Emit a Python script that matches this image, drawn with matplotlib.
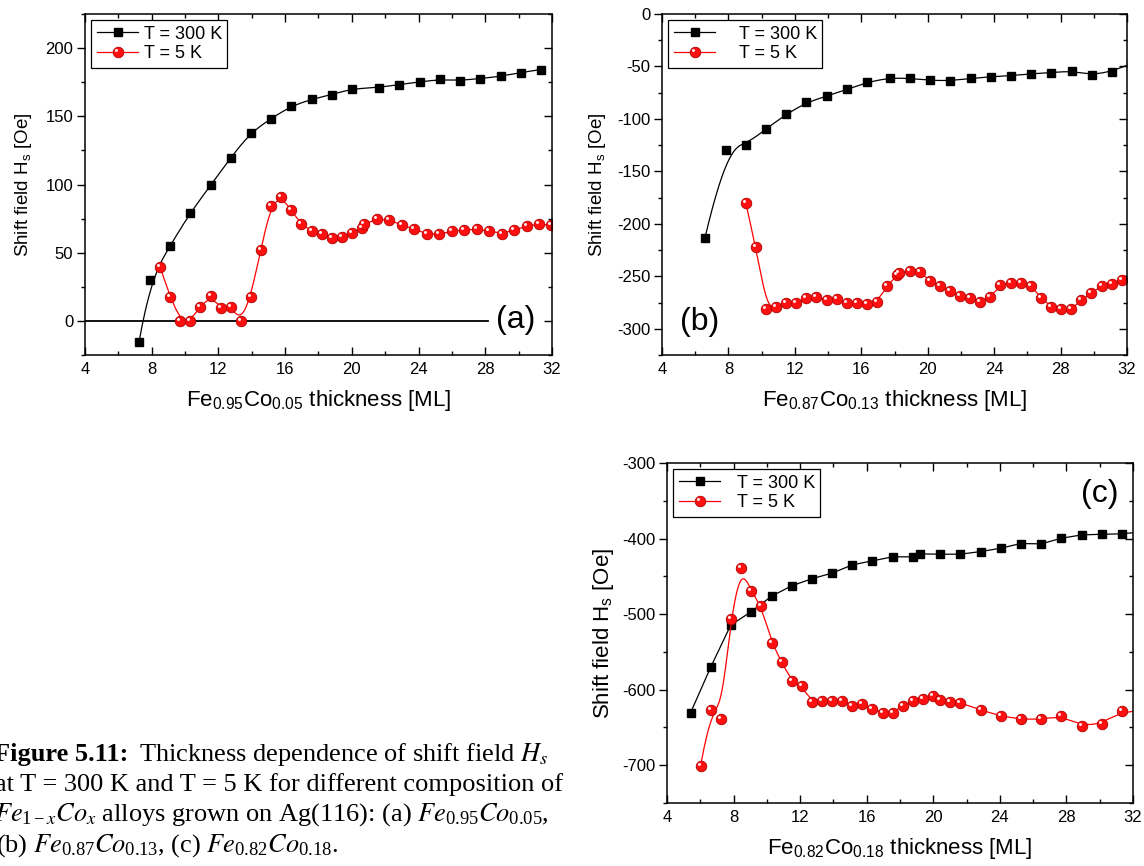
import numpy as np
import matplotlib
matplotlib.use("Agg")
import matplotlib.pyplot as plt
from matplotlib.path import Path
from matplotlib.legend_handler import HandlerTuple

plt.rcParams['font.family'] = 'Liberation Sans'
plt.rcParams['mathtext.fontset'] = 'custom'
plt.rcParams['mathtext.rm'] = 'Liberation Sans'
plt.rcParams['mathtext.it'] = 'Liberation Sans:italic'
plt.rcParams['mathtext.bf'] = 'Liberation Sans:bold'
plt.rcParams['mathtext.default'] = 'regular'
plt.rcParams['axes.unicode_minus'] = False

# ---- data ----
# (a) Fe0.95Co0.05
a_x300 = [7.24, 7.90, 9.10, 10.29, 11.53, 12.73, 13.93, 15.15, 16.35, 17.59, 18.81,
          20.01, 21.63, 22.85, 24.06, 25.26, 26.46, 27.68, 28.92, 30.12, 31.34]
a_y300 = [-15.4, 29.9, 55.1, 78.9, 99.3, 119.6, 138.0, 148.3, 157.4, 162.5, 165.9,
          170.3, 171.1, 173.3, 175.2, 177.0, 176.2, 177.7, 179.2, 182.1, 184.3]
a_x5 = [8.50, 9.10, 9.70, 10.29, 10.91, 11.53, 12.13, 12.73, 13.33, 13.93, 14.53,
        15.15, 15.75, 16.35, 16.97, 17.59, 18.19, 18.81, 19.41, 20.01, 20.61, 20.73,
        21.49, 22.25, 22.99, 23.74, 24.48, 25.24, 25.98, 26.72, 27.48, 28.24, 28.98,
        29.72, 30.48, 31.22, 31.92]
a_y5 = [39.7, 17.6, 0.0, 0.0, 10.3, 18.1, 9.6, 10.3, 0.0, 17.2, 52.0,
        84.6, 91.2, 81.4, 70.8, 65.9, 63.5, 61.0, 61.5, 64.2, 68.4, 70.8,
        74.8, 74.0, 70.3, 67.4, 63.7, 63.5, 65.7, 66.7, 67.2, 65.9, 64.0,
        66.7, 69.6, 71.1, 70.3]

# (b) Fe0.87Co0.13
b_x300 = [6.59, 7.84, 9.04, 10.27, 11.47, 12.70, 13.93, 15.13, 16.34, 17.70, 18.93,
          20.13, 21.34, 22.59, 23.79, 25.00, 26.22, 27.45, 28.67, 29.88, 31.08, 32.30]
b_y300 = [-213.1, -129.5, -124.7, -109.4, -95.7, -84.3, -78.2, -71.9, -65.2, -60.8, -61.4,
          -63.3, -63.6, -61.4, -59.8, -58.8, -56.9, -56.0, -54.1, -58.5, -55.0, -47.0]
b_x5 = [9.04, 9.65, 10.27, 10.87, 11.47, 12.08, 12.70, 13.30, 13.93, 14.53, 15.13,
        15.73, 16.34, 16.96, 17.56, 18.17, 18.29, 18.93, 19.53, 20.13, 20.74, 21.36,
        21.96, 22.57, 23.17, 23.77, 24.37, 25.00, 25.60, 26.20, 26.85, 27.45, 28.05,
        28.65, 29.26, 29.86, 30.49, 31.08, 31.71]
b_y5 = [-179.7, -221.7, -281.2, -279.6, -275.8, -275.8, -271.0, -270.0, -272.6, -271.6, -275.8,
        -275.1, -276.7, -274.2, -258.9, -249.0, -246.5, -244.9, -246.2, -254.1, -259.2, -264.0,
        -268.4, -270.4, -274.2, -269.7, -258.6, -256.0, -256.7, -258.9, -270.7, -279.6, -281.2,
        -281.2, -272.9, -265.6, -259.2, -257.6, -253.5]

# (c) Fe0.82Co0.18
c_x300 = [5.42, 6.62, 7.83, 9.05, 10.29, 11.49, 12.69, 13.91, 15.14, 16.34, 17.56,
          18.76, 19.22, 20.42, 21.62, 22.85, 24.05, 25.25, 26.49, 27.69, 28.91, 30.14,
          31.34, 32.50]
c_y300 = [-630.4, -570.5, -514.5, -496.9, -476.2, -462.6, -453.3, -445.8, -434.8, -429.5, -424.2,
          -424.2, -420.3, -420.7, -420.7, -417.2, -412.8, -406.6, -407.0, -399.6, -395.2, -394.3,
          -393.8, -391.0]
c_x5 = [6.02, 6.62, 7.22, 7.83, 8.45, 9.07, 9.67, 10.29, 10.89, 11.49, 12.09,
        12.71, 13.31, 13.91, 14.51, 15.14, 15.74, 16.34, 16.96, 17.56, 18.18, 18.78,
        19.38, 19.98, 20.42, 21.02, 21.62, 22.85, 24.05, 25.29, 26.49, 27.69, 28.91,
        30.14, 31.34, 32.50]
c_y5 = [-700.4, -627.3, -638.3, -506.2, -438.8, -469.6, -489.9, -537.9, -563.4, -588.5, -595.2,
        -616.3, -615.4, -615.4, -615.4, -621.1, -619.4, -625.6, -630.4, -630.4, -621.1, -615.0,
        -612.3, -607.9, -613.2, -616.7, -617.2, -626.9, -634.8, -639.2, -639.2, -634.8, -647.6,
        -645.8, -628.2, -628.0]

xlabels = ['Fe$_{0.95}$Co$_{0.05}$ thickness [ML]',
           'Fe$_{0.87}$Co$_{0.13}$ thickness [ML]',
           'Fe$_{0.82}$Co$_{0.18}$ thickness [ML]']
ylabel = 'Shift field H$_s$ [Oe]'
letters = ['(a)', '(b)', '(c)']


def bspline(x, y, n=600):
    # clamped cubic B-spline using the points as control points (Origin style)
    P = np.column_stack([x, y])
    m, k = len(P), 3
    knots = np.concatenate([[0.0] * k, np.linspace(0, 1, m - k + 1), [1.0] * k])
    t = np.linspace(0, 1, n)
    N = np.zeros((len(knots) - 1, n))
    for i in range(len(knots) - 1):
        N[i] = (knots[i] <= t) & (t < knots[i + 1])
    N[m - 1, -1] = 1.0
    for d in range(1, k + 1):
        Nn = np.zeros((len(knots) - 1 - d, n))
        for i in range(len(knots) - 1 - d):
            a = knots[i + d] - knots[i]
            b = knots[i + d + 1] - knots[i + 1]
            if a > 0:
                Nn[i] += (t - knots[i]) / a * N[i]
            if b > 0:
                Nn[i] += (knots[i + d + 1] - t) / b * N[i + 1]
        N = Nn
    C = N[:m].T @ P
    return C[:, 0], C[:, 1]


# small white highlight on the red balls (upper left)
hl_marker = Path.circle((-0.29, 0.29), 0.21)
BALL = dict(marker='o', ms=7.6, mfc='#ff1010', mec='#b00000', mew=0.6)
HL = dict(marker=hl_marker, ms=5, mfc='white', mec='none')

fig = plt.figure(figsize=(11.44, 8.66), dpi=100)
W, H = 1144.0, 866.0


def make_ax(l, t, r, b):
    return fig.add_axes([l / W, 1 - b / H, (r - l) / W, (b - t) / H])


def style(ax, ylim, ymaj, ymin):
    ax.set_xlim(4, 32)
    ax.set_ylim(*ylim)
    ax.set_xticks(np.arange(4, 33, 4))
    ax.set_xticks(np.arange(6, 33, 4), minor=True)
    ax.set_yticks(ymaj)
    ax.set_yticks(ymin, minor=True)
    for s in ax.spines.values():
        s.set_linewidth(1.1)
    ax.tick_params(which='both', top=True, right=True, width=1.0, labelsize=12)
    ax.tick_params(axis='x', which='both', direction='in', pad=5)
    ax.tick_params(axis='y', which='both', direction='out', pad=3)
    ax.tick_params(which='major', length=5.5)
    ax.tick_params(which='minor', length=2.8)
    # right side ticks point inwards
    for tk in ax.yaxis.get_major_ticks() + ax.yaxis.get_minor_ticks():
        tk.tick2line.set_marker(matplotlib.lines.TICKLEFT)


def draw(ax, x3, y3, x5, y5, smooth300=True):
    if smooth300:
        sx, sy = bspline(x3, y3)
        ax.plot(sx, sy, color='black', lw=0.9)
    else:
        ax.plot(x3, y3, color='black', lw=0.9)
    ax.plot(x3, y3, ls='none', marker='s', ms=6, color='black')
    sx, sy = bspline(x5, y5)
    ax.plot(sx, sy, color='red', lw=0.9)
    ax.plot(x5, y5, ls='none', **BALL)
    ax.plot(x5, y5, ls='none', **HL)
    h1, = ax.plot([], [], color='black', lw=0.9, marker='s', ms=6)
    h2, = ax.plot([], [], color='red', lw=0.9, **BALL)
    h3, = ax.plot([], [], ls='none', **HL)
    return h1, (h2, h3)


axes = [make_ax(85, 14, 552, 355), make_ax(662, 14, 1127, 355), make_ax(667, 463, 1133, 803)]
ax_a, ax_b, ax_c = axes

style(ax_a, (-25, 225), np.arange(0, 201, 50), np.arange(-25, 226, 50))
style(ax_b, (-325, 0), np.arange(-300, 1, 50), np.arange(-325, 1, 50))
style(ax_c, (-750, -300), np.arange(-700, -299, 100), np.arange(-750, -299, 100))

ax_a.axhline(0, xmin=0, xmax=0.864, color='black', lw=1.3)

hs = [draw(ax_a, a_x300, a_y300, a_x5, a_y5),
      draw(ax_b, b_x300, b_y300, b_x5, b_y5),
      draw(ax_c, c_x300, c_y300, c_x5, c_y5, smooth300=False)]

pads = [0.3, 1.3, 0.9]
ysizes = [13.5, 13.5, 16]
ypads = [8, 6, 4]
for ax, h, pad, xl, ys, yp in zip(axes, hs, pads, xlabels, ysizes, ypads):
    leg = ax.legend([h[0], h[1]], ['T = 300 K', 'T = 5 K'], loc='upper left',
                    handler_map={tuple: HandlerTuple(ndivide=1)},
                    fontsize=13, frameon=True, fancybox=False, framealpha=1,
                    edgecolor='black', handlelength=2.3, handletextpad=pad,
                    borderpad=0.3, labelspacing=0.15, borderaxespad=0.35,
                    numpoints=1)
    leg.get_frame().set_linewidth(0.9)
    ax.set_xlabel(xl, fontsize=16, labelpad=8)
    ax.set_ylabel(ylabel, fontsize=ys, labelpad=yp)

ax_a.text(0.923, 0.103, letters[0], transform=ax_a.transAxes, fontsize=23,
          ha='center', va='center')
ax_b.text(0.08, 0.097, letters[1], transform=ax_b.transAxes, fontsize=23,
          ha='center', va='center')
ax_c.text(0.929, 0.909, letters[2], transform=ax_c.transAxes, fontsize=23,
          ha='center', va='center')

# caption
cap_bold = "Figure 5.11:"
caption = ["Thickness dependence of shift field $\\mathit{H_s}$",
           "at T = 300 K and T = 5 K for different composition of",
           r"$\mathit{Fe}_{1-\mathit{x}}\mathit{Co}_{\mathit{x}}$ alloys grown on Ag(116): (a) $\mathit{Fe}_{0.95}\mathit{Co}_{0.05}$,",
           r"(b) $\mathit{Fe}_{0.87}\mathit{Co}_{0.13}$, (c) $\mathit{Fe}_{0.82}\mathit{Co}_{0.18}$."]
base_px = [761, 791, 821, 852]
start_px = [-6, -5, -6, -4]
cap_kw = dict(fontsize=19, family='Liberation Serif', math_fontfamily='stix',
              ha='left', va='baseline')
renderer = fig.canvas.get_renderer()
tb = fig.text(start_px[0] / W, 1 - base_px[0] / H, cap_bold, fontweight='bold', **cap_kw)
x_after = tb.get_window_extent(renderer).x1 + 11
fig.text(x_after / W, 1 - base_px[0] / H, caption[0], **cap_kw)
for s, yb, xs in zip(caption[1:], base_px[1:], start_px[1:]):
    fig.text(xs / W, 1 - yb / H, s, **cap_kw)

fig.savefig('out.png', dpi=100)
